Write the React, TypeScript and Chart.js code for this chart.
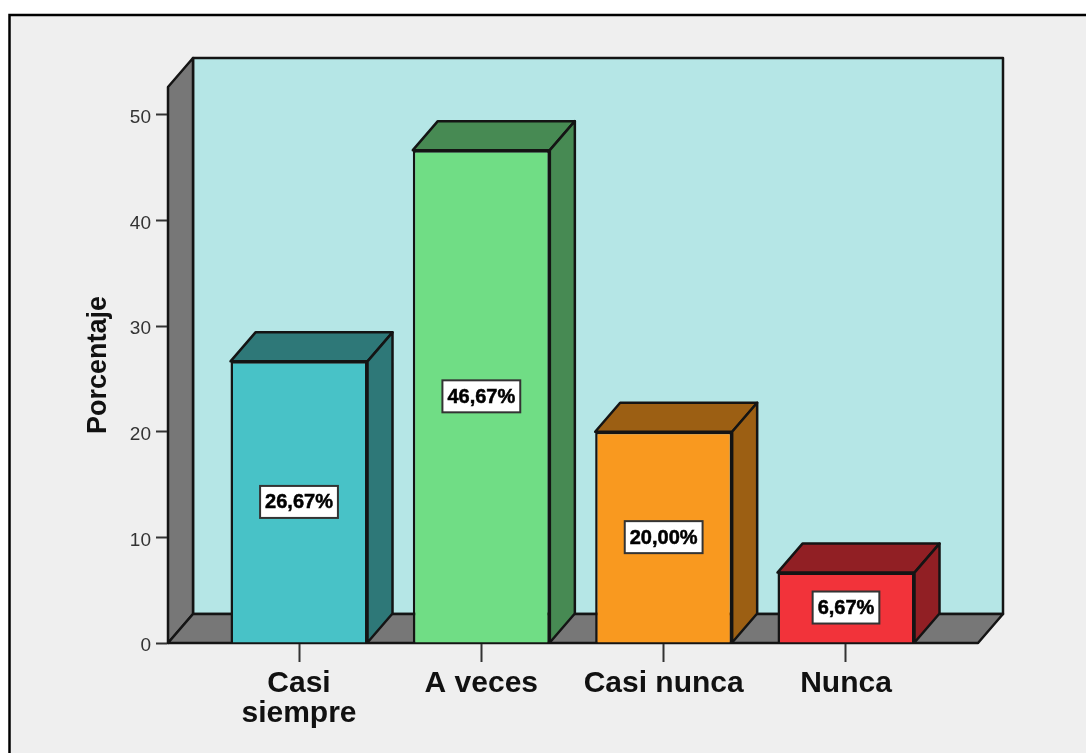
import React, { useEffect, useRef } from "react";
import { Chart, registerables } from "chart.js";

Chart.register(...registerables);

const categories: (string | string[])[] = [["Casi", "siempre"], "A veces", "Casi nunca", "Nunca"];
const percentages = [26.67, 46.67, 20.0, 6.67];
const percentLabels = ["26,67%", "46,67%", "20,00%", "6,67%"];
const yTicks = [0, 10, 20, 30, 40, 50];
const frontColors = ["#48c2c7", "#70dd85", "#f9991f", "#f2333a"];
const shadeColors = ["#2e7878", "#478a53", "#9c5f13", "#911f24"];

const DX = 25;
const DY = -29;
const LINE = "#141414";

function poly(ctx: CanvasRenderingContext2D, pts: number[][], fill: string) {
  ctx.beginPath();
  pts.forEach((p, i) => (i ? ctx.lineTo(p[0], p[1]) : ctx.moveTo(p[0], p[1])));
  ctx.closePath();
  ctx.fillStyle = fill;
  ctx.fill();
  ctx.lineWidth = 2.5;
  ctx.lineJoin = "round";
  ctx.strokeStyle = LINE;
  ctx.stroke();
}

const boxPlugin = {
  id: "box3d",
  beforeDraw(chart: any) {
    const { ctx, chartArea: a, width, height } = chart;
    ctx.save();
    ctx.fillStyle = "#ffffff";
    ctx.fillRect(0, 0, width, height);
    ctx.fillStyle = "#efefef";
    ctx.fillRect(9, 15, width, height);
    ctx.strokeStyle = "#000000";
    ctx.lineWidth = 2.5;
    ctx.beginPath();
    ctx.moveTo(9.5, height + 2);
    ctx.lineTo(9.5, 15);
    ctx.lineTo(width + 2, 15);
    ctx.stroke();
    const { left: l, right: r, top: t, bottom: b } = a;
    poly(ctx, [[l + DX, t + DY], [r + DX, t + DY], [r + DX, b + DY], [l + DX, b + DY]], "#b5e6e6");
    poly(ctx, [[l, t], [l + DX, t + DY], [l + DX, b + DY], [l, b]], "#777777");
    poly(ctx, [[l, b], [l + DX, b + DY], [r + DX, b + DY], [r, b]], "#777777");
    ctx.restore();
  },
  beforeDatasetsDraw(chart: any) {
    const { ctx } = chart;
    ctx.save();
    chart.getDatasetMeta(0).data.forEach((bar: any, i: number) => {
      const x0 = bar.x - bar.width / 2;
      const x1 = bar.x + bar.width / 2;
      poly(ctx, [[x0, bar.y], [x0 + DX, bar.y + DY], [x1 + DX, bar.y + DY], [x1, bar.y]], shadeColors[i]);
      poly(ctx, [[x1, bar.y], [x1 + DX, bar.y + DY], [x1 + DX, bar.base + DY], [x1, bar.base]], shadeColors[i]);
    });
    ctx.restore();
  },
  afterDatasetsDraw(chart: any) {
    const { ctx } = chart;
    ctx.save();
    ctx.font = "bold 20px 'Liberation Sans'";
    ctx.textAlign = "center";
    ctx.textBaseline = "middle";
    chart.getDatasetMeta(0).data.forEach((bar: any, i: number) => {
      const cy = (bar.y + bar.base) / 2;
      const w = ctx.measureText(percentLabels[i]).width + 10;
      const h = 32;
      ctx.fillStyle = "#ffffff";
      ctx.fillRect(bar.x - w / 2, cy - h / 2, w, h);
      ctx.strokeStyle = "#333333";
      ctx.lineWidth = 2;
      ctx.strokeRect(bar.x - w / 2, cy - h / 2, w, h);
      ctx.fillStyle = "#000000";
      ctx.strokeStyle = "#000000";
      ctx.lineWidth = 0.5;
      ctx.fillText(percentLabels[i], bar.x, cy + 1);
      ctx.strokeText(percentLabels[i], bar.x, cy + 1);
    });
    ctx.restore();
  },
};

export default function App() {
  const ref = useRef<HTMLCanvasElement>(null);
  useEffect(() => {
    const chart = new Chart(ref.current as HTMLCanvasElement, {
      type: "bar",
      data: {
        datasets: [
          {
            data: percentages.map((v, i) => ({ x: i, y: v })),
            backgroundColor: frontColors,
            borderColor: LINE,
            borderWidth: 2.5,
            barPercentage: 0.7515,
            categoryPercentage: 1,
          },
        ],
      } as any,
      options: {
        animation: false,
        responsive: false,
        layout: { padding: { top: 87, right: 108, left: 0, bottom: 0 } },
        plugins: { legend: { display: false }, tooltip: { enabled: false } },
        scales: {
          x: {
            type: "linear",
            offset: false,
            bounds: "data",
            min: -0.7185,
            max: 3.724,
            afterBuildTicks: (s: any) => {
              s.ticks = categories.map((_, i) => ({ value: i }));
            },
            afterFit: (s: any) => {
              s.height = 110;
            },
            grid: { display: true, offset: false, drawOnChartArea: false, tickLength: 19, tickColor: "#333333", tickWidth: 2 },
            border: { display: true, color: LINE, width: 2 },
            ticks: {
              autoSkip: false,
              maxRotation: 0,
              padding: 7,
              color: "#111111",
              font: { family: "'Liberation Sans'", size: 30, weight: "bold", lineHeight: 1 },
              callback: (v: any) => categories[v],
            },
          },
          y: {
            type: "linear",
            min: 0,
            max: 52.65,
            afterBuildTicks: (s: any) => {
              s.ticks = yTicks.map((value) => ({ value }));
            },
            afterFit: (s: any) => {
              s.width = 168;
            },
            grid: { display: true, drawOnChartArea: false, tickLength: 12, tickColor: "#333333", tickWidth: 2 },
            border: { display: true, color: LINE, width: 2 },
            ticks: {
              padding: 5,
              labelOffset: 3,
              color: "#333333",
              font: { family: "'Liberation Sans'", size: 19 },
            },
            title: {
              display: true,
              text: "Porcentaje",
              color: "#111111",
              font: { family: "'Liberation Sans'", size: 27, weight: "bold", lineHeight: 1 },
              padding: { top: 85, bottom: 0 },
            },
          },
        },
      },
      plugins: [boxPlugin],
    } as any);
    return () => chart.destroy();
  }, []);
  return (
    <canvas
      ref={ref}
      width={1086}
      height={753}
      style={{ position: "absolute", left: 0, top: 0, display: "block", width: 1086, height: 753, filter: "blur(0.5px)" }}
    />
  );
}
